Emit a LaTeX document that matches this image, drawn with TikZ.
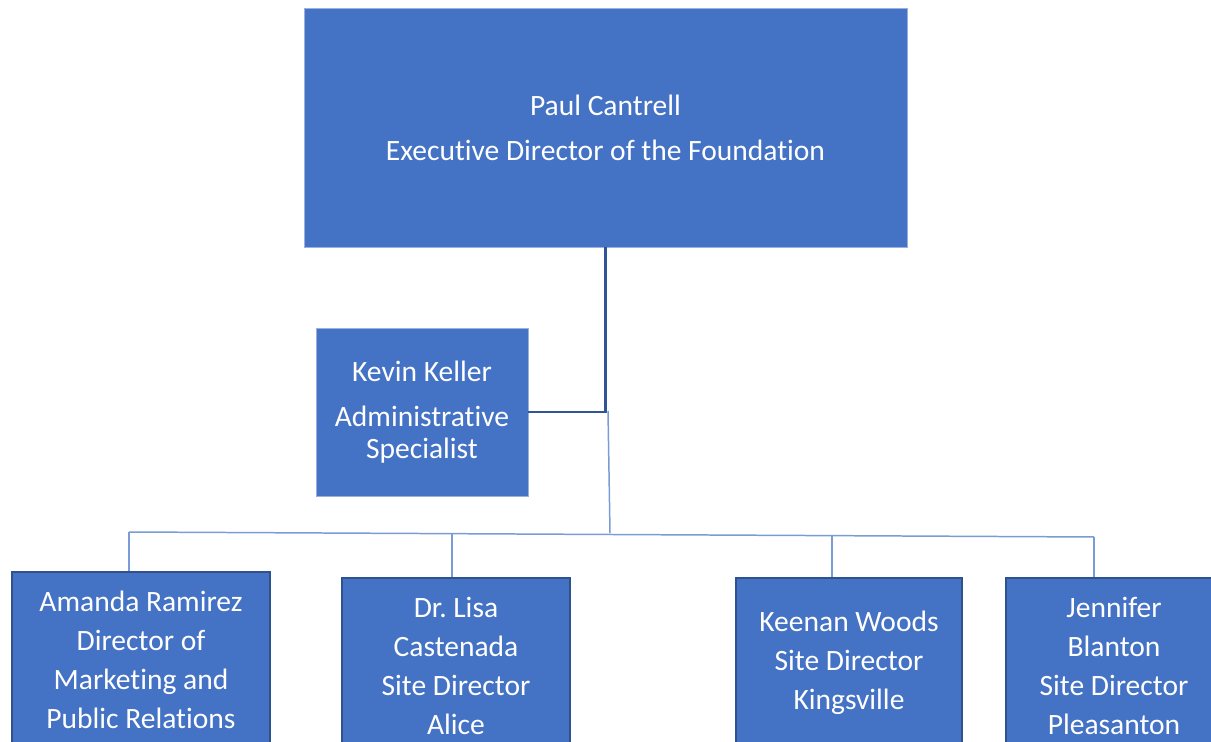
\documentclass[tikz,border=0pt]{standalone}
\usepackage{fontspec}
\setmainfont{Carlito}[Ligatures=NoCommon]
\definecolor{boxblue}{HTML}{4472C4}
\definecolor{boxedge}{HTML}{2F528F}
\definecolor{darkline}{HTML}{2F5597}
\definecolor{lightline}{HTML}{7A9CD6}
\begin{document}
\begin{tikzpicture}[x=0.02cm, y=-0.02cm,
    box/.style={fill=boxblue, draw=boxedge, line width=0.7pt, text=white,
      align=center, inner sep=0pt, font=\fontsize{16.8}{22.2}\selectfont},
    headbox/.style={box, draw=boxblue!55!white, line width=0.5pt},
    mainline/.style={darkline, line width=1.4pt},
    subline/.style={lightline, line width=0.85pt}]
  \useasboundingbox (0,0) rectangle (1211,742);
  \clip (0,0) rectangle (1211,742);
  % boxes
  \node[headbox, minimum width=12.06cm, minimum height=4.78cm] (paul) at (605.5,127.5)
    {Paul Cantrell\\[3.4pt] Executive Director of the Foundation};
  \node[headbox, minimum width=4.24cm, minimum height=3.36cm,
    font=\fontsize{16.8}{18.2}\selectfont] (kevin) at (422,412)
    {Kevin Keller\\[7.4pt] Administrative\\ Specialist};
  \node[box, minimum width=5.16cm, minimum height=3.52cm] (amanda) at (141,660)
    {Amanda Ramirez\\ Director of\\ Marketing and\\ Public Relations};
  \node[box, minimum width=4.56cm, minimum height=3.52cm] (lisa) at (456,666)
    {Dr.\ Lisa\\ Castenada\\ Site Director\\ Alice};
  \node[box, minimum width=4.52cm, minimum height=3.38cm] (keenan) at (849,662.5)
    {Keenan Woods\\ Site Director\\ Kingsville};
  \node[box, minimum width=4.32cm, minimum height=3.52cm] (jennifer) at (1114,666)
    {Jennifer\\ Blanton\\ Site Director\\ Pleasanton};
  % lines
  \draw[mainline] (paul.south) |- (kevin.east);
  \coordinate (hub) at (608,411);
  \coordinate (bus) at (610,533);
  \coordinate (busL) at (129,532);
  \coordinate (busR) at (1094,537);
  \draw[subline] (hub) -- (bus);
  \draw[subline] (busL) -- (busR);
  \foreach \n/\x/\y in {amanda/129/532, lisa/452/534, keenan/832/536, jennifer/1094/537} {
    \coordinate (d\n) at (\x,\y);
    \draw[subline] (d\n) -- (d\n |- \n.north);
  }
\end{tikzpicture}
\end{document}
